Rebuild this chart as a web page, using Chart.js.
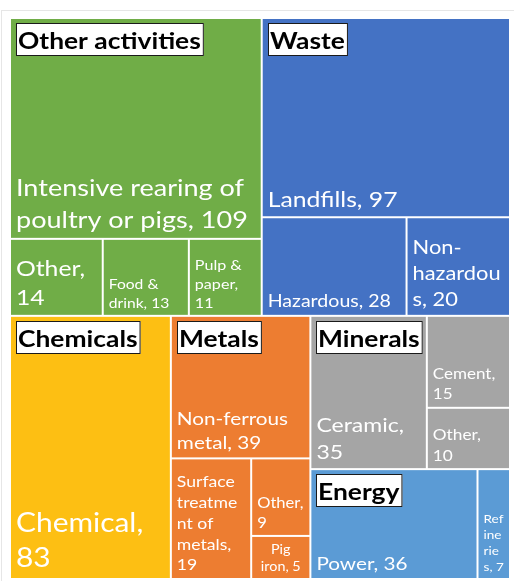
<!DOCTYPE html>
<html>
<head>
<meta charset="utf-8">
<script src="https://cdn.jsdelivr.net/npm/chart.js@4.4.0/dist/chart.umd.min.js"></script>
<style>
    html, body { margin: 0; padding: 0; background: #fff; }
    #frame { position: absolute; left: 1px; top: 10px; width: 530px; height: 590px; border-left: 1px solid #e6e6e6; border-top: 1px solid #e6e6e6; }
    #wrap { position: absolute; left: 0; top: 0; width: 514px; height: 581px; }
</style>
</head>
<body>
<div id="frame"></div>
<div id="wrap"><canvas id="treeChart" width="514" height="581"></canvas></div>
<script>
// DATA
const groups = ['Other activities', 'Waste', 'Chemicals', 'Metals', 'Minerals', 'Energy'];

const leafNames = [
    'Intensive rearing of poultry or pigs', 'Other', 'Food & drink', 'Pulp & paper',
    'Landfills', 'Hazardous', 'Non-hazardous',
    'Chemical',
    'Non-ferrous metal', 'Surface treatment of metals', 'Other', 'Pig iron',
    'Ceramic', 'Cement', 'Other',
    'Power', 'Refineries'
];
const leafGroups = [
    'Other activities', 'Other activities', 'Other activities', 'Other activities',
    'Waste', 'Waste', 'Waste',
    'Chemicals',
    'Metals', 'Metals', 'Metals', 'Metals',
    'Minerals', 'Minerals', 'Minerals',
    'Energy', 'Energy'
];
const leafValues = [109, 14, 13, 11, 97, 28, 20, 83, 39, 19, 9, 5, 35, 15, 10, 36, 7];

// STYLES
const groupColors = {
    'Other activities': '#70AD47',
    'Waste': '#4472C4',
    'Chemicals': '#FDBF13',
    'Metals': '#ED7D31',
    'Minerals': '#A5A5A5',
    'Energy': '#5B9BD5'
};
// label font size per leaf (same order as leafNames)
const labelSizes = [23.5, 21.5, 13.6, 14, 21.5, 17, 19, 26, 18, 15.3, 14.4, 12.5, 20, 14.8, 15, 18, 11.8];
const labelAlign = { 'Pig iron': 'center' };
const textStretch = 1.15;   // labels are drawn a little wide
const headerStretch = 1.2;
const headerSize = 22;
const fontFamily = 'Lato, "Open Sans", sans-serif';

const sum = arr => arr.reduce((a, b) => a + b, 0);

// squarified layout: values sorted desc, returns rects in the same order
function squarify(values, x, y, w, h) {
    const total = sum(values);
    let rest = values.map(v => v / total * w * h);
    const rects = [];
    const worst = (row, s) => {
        const t = sum(row), mx = Math.max(...row), mn = Math.min(...row);
        return Math.max(s * s * mx / (t * t), t * t / (s * s * mn));
    };
    while (rest.length) {
        const s = Math.min(w, h);
        let row = [rest[0]];
        let i = 1;
        while (i < rest.length && worst(row.concat(rest[i]), s) <= worst(row, s)) {
            row.push(rest[i]);
            i++;
        }
        const rowArea = sum(row);
        if (w >= h) {
            const cw = rowArea / h;
            let cy = y;
            row.forEach(a => { rects.push({ x: x, y: cy, w: cw, h: a / cw }); cy += a / cw; });
            x += cw; w -= cw;
        } else {
            const rh = rowArea / w;
            let cx = x;
            row.forEach(a => { rects.push({ x: cx, y: y, w: a / rh, h: rh }); cx += a / rh; });
            y += rh; h -= rh;
        }
        rest = rest.slice(i);
    }
    return rects;
}

function wrapText(ctx, text, maxW, stretch) {
    const m = s => ctx.measureText(s.trimEnd()).width * stretch;
    const tokens = text.split(/(?<=[ -])/);
    const lines = [];
    let line = '';
    tokens.forEach(tok => {
        if (m(line + tok) <= maxW) {
            line += tok;
            return;
        }
        if (line.trim()) lines.push(line.trimEnd());
        line = '';
        if (m(tok) <= maxW) {
            line = tok;
        } else {
            for (const ch of tok) {
                if (line && m(line + ch) > maxW) {
                    lines.push(line.trimEnd());
                    line = ch;
                } else {
                    line += ch;
                }
            }
        }
    });
    if (line.trim()) lines.push(line.trimEnd());
    return lines;
}

function stretchedText(ctx, text, x, y, stretch) {
    ctx.save();
    ctx.translate(x, y);
    ctx.scale(stretch, 1);
    ctx.fillText(text, 0, 0);
    ctx.restore();
}

const treemapPlugin = {
    id: 'treemap',
    afterDraw(chart) {
        const { ctx, chartArea: ca, scales: { x, y } } = chart;
        const aspect = ca.width / ca.height;

        const groupItems = groups.map(g => {
            const idx = leafGroups.map((lg, i) => lg === g ? i : -1).filter(i => i >= 0);
            idx.sort((a, b) => leafValues[b] - leafValues[a]);
            return { name: g, idx: idx, value: sum(idx.map(i => leafValues[i])) };
        }).sort((a, b) => b.value - a.value);

        const toPx = r => {
            const l = x.getPixelForValue(r.x / aspect);
            const rr = x.getPixelForValue((r.x + r.w) / aspect);
            const t = y.getPixelForValue(r.y);
            const b = y.getPixelForValue(r.y + r.h);
            return { x: l, y: t, w: rr - l, h: b - t };
        };

        const groupRects = squarify(groupItems.map(g => g.value), 0, 0, aspect, 1);
        const leaves = [];
        groupItems.forEach((g, gi) => {
            const gr = groupRects[gi];
            const lr = squarify(g.idx.map(i => leafValues[i]), gr.x, gr.y, gr.w, gr.h);
            g.idx.forEach((i, k) => leaves.push({ i: i, group: g.name, px: toPx(lr[k]) }));
            g.px = toPx(gr);
        });

        ctx.save();
        // cells
        leaves.forEach(l => {
            ctx.fillStyle = groupColors[l.group];
            ctx.fillRect(l.px.x + 1, l.px.y + 1, l.px.w - 2, l.px.h - 2);
        });

        // leaf labels, bottom-left
        ctx.fillStyle = '#ffffff';
        ctx.textBaseline = 'alphabetic';
        ctx.textAlign = 'left';
        leaves.forEach(l => {
            const size = labelSizes[l.i];
            ctx.font = size + 'px ' + fontFamily;
            const padL = 6, padR = 6;
            const text = leafNames[l.i] + ', ' + leafValues[l.i];
            const lines = wrapText(ctx, text, l.px.w - padL - padR, textStretch);
            const lh = size * 1.36;
            const lastBase = l.px.y + l.px.h - (4 + 0.3 * size);
            const center = labelAlign[leafNames[l.i]] === 'center';
            lines.forEach((ln, k) => {
                const by = lastBase - (lines.length - 1 - k) * lh;
                let bx = l.px.x + padL;
                if (center) bx = l.px.x + (l.px.w - ctx.measureText(ln).width * textStretch) / 2;
                stretchedText(ctx, ln, bx, by, textStretch);
            });
        });

        // group headers in white boxes
        groupItems.forEach(g => {
            ctx.font = 'bold ' + headerSize + 'px ' + fontFamily;
            const tw = ctx.measureText(g.name).width * headerStretch;
            const bx = Math.round(g.px.x) + 6;
            const by = Math.round(g.px.y) + 5;
            ctx.fillStyle = '#ffffff';
            ctx.fillRect(bx, by, tw + 5, 33);
            ctx.strokeStyle = '#1a1a1a';
            ctx.lineWidth = 1;
            ctx.strokeRect(bx + 0.5, by + 0.5, tw + 4, 32);
            ctx.fillStyle = '#000000';
            stretchedText(ctx, g.name, bx + 2, by + 26, headerStretch);
        });
        ctx.restore();
    }
};

new Chart(document.getElementById('treeChart'), {
    type: 'scatter',
    data: { datasets: [] },
    options: {
        responsive: false,
        animation: false,
        layout: { padding: { left: 10, top: 18, right: 4, bottom: 2 } },
        plugins: { legend: { display: false }, tooltip: { enabled: false } },
        scales: {
            x: { type: 'linear', min: 0, max: 1, display: false },
            y: { type: 'linear', min: 0, max: 1, reverse: true, display: false }
        }
    },
    plugins: [treemapPlugin]
});
</script>
</body>
</html>
